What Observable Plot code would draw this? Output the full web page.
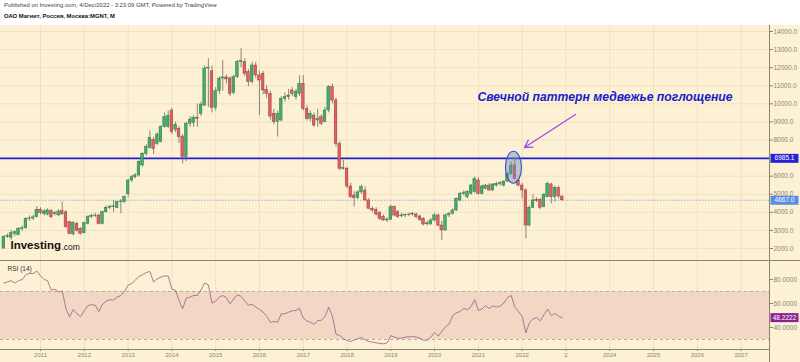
<!DOCTYPE html>
<html><head><meta charset="utf-8">
<script src="https://cdn.jsdelivr.net/npm/d3@7"></script>
<script src="https://cdn.jsdelivr.net/npm/@observablehq/plot@0.6"></script>
<style>
body{margin:0;background:#fff;font-family:"Liberation Sans",Arial,sans-serif;}
#wrap{position:relative;width:800px;height:362px;overflow:hidden;background:#fff;}
#hdr{height:25px;position:relative;}
#hdr .l1{position:absolute;left:4px;top:2px;font-size:5.9px;color:#444;white-space:nowrap;}
#hdr .l2{position:absolute;left:4px;top:13px;font-size:5.9px;font-weight:bold;color:#111;white-space:nowrap;}
#chart{background:#fdf1d5;height:337px;}
#chart svg{display:block;}
.vline{position:absolute;left:769px;top:25px;width:1px;height:337px;background:#8c8270;}
.sep{position:absolute;left:0;top:260px;width:800px;height:1px;background:#8c8270;}
</style></head>
<body>
<div id="wrap">
  <div id="hdr">
    <div class="l1">Published on Investing.com, 4/Dec/2022 - 3:23:09 GMT, Powered by TradingView</div>
    <div class="l2">ОАО Магнит, Россия, Москва:MGNT, M</div>
  </div>
  <div id="chart"></div>
  <div class="vline"></div>
  <div class="sep"></div>
</div>
<script>
// ---- data (monthly, Mar 2010 .. Dec 2022) ----
const firstMonth = "2010-03-01";
const lastMonth = "2022-12-01";
const opens = [
2000,2650,2600,2800,2750,3090,3120,3640,3660,3730,
4140,3920,3880,4060,3900,3830,4060,4000,3460,2780,
3360,3090,2850,3360,3750,3790,3820,3360,4010,4250,
4290,4250,4560,4560,5000,5760,5940,6040,6590,7235,
7570,8010,7790,7880,8710,8710,9630,8560,8620,8190,
7050,8900,8930,9230,9450,9900,11950,11800,9780,10700,
11400,11460,11400,10600,11475,12300,12300,11750,11200,12120,
11570,11660,10770,10550,9450,9000,9080,10280,10370,10740,
10370,10550,11100,9720,9170,9350,9080,9260,9000,9630,
10920,10185,7790,6410,6410,5430,4930,4780,5100,5200,
4660,4195,4140,3955,3735,3550,3586,4286,4010,3780,
3826,3850,3880,3880,3770,3640,3340,3330,3550,3830,
3270,3000,3830,3920,4100,4650,5020,4840,5020,5115,
5760,5020,5300,5480,5210,5480,5570,5480,5700,6130,
6600,5760,5480,5210,3270,4250,4690,4690,4286,4840,
5540,4840,5355,4876];
const highs = [
2700,2800,3000,2950,3150,3250,3700,3800,3850,4320,
4250,4150,4200,4150,4050,4150,4560,4100,3500,3500,
3450,3150,3450,3800,3900,3950,3900,4050,4350,4400,
4650,4600,4700,4900,5800,6050,6150,6850,7300,7750,
8500,8150,8400,8800,9500,9600,9750,9000,8750,8300,
9000,9300,9350,10000,10100,12100,12500,12100,10900,11500,
12400,11600,11500,11600,12400,13050,12500,11900,12300,12300,
11800,11800,11000,10700,9700,9600,10400,10600,10800,10900,
10800,11550,11560,9900,9600,9500,9700,9400,9800,11000,
11100,10300,7900,6870,6500,5600,5150,5200,5500,5400,
4750,4300,4250,4050,3850,3700,4400,4350,4100,3950,
3900,3950,3990,3950,3850,3700,3500,3650,3950,3900,
3500,3900,4000,4200,4800,5100,5200,5200,5550,5950,
5900,5500,5550,5600,5600,5650,5700,5750,6200,6800,
6985.1,5850,5600,5300,4350,4970,4800,4750,5050,5670,
5600,5450,5450,4900];
const lows = [
1950,2550,2450,2650,2700,2950,3050,3500,3550,3700,
3850,3800,3800,3650,3800,3750,3850,3100,2750,2700,
2900,2750,2800,3300,3650,3700,3300,3300,3950,4150,
4010,4200,3920,4500,4800,5650,5850,5950,6500,7100,
7500,7200,7700,7850,8650,8650,8300,8400,7800,6680,
6800,8700,8700,8710,9300,9850,9800,9500,9600,10500,
10700,11100,10400,10500,11400,12000,11500,10950,11100,11400,
9350,10500,10300,9100,8850,8160,9000,10100,10200,10400,
10200,10400,9600,9050,9000,8700,8700,8800,8950,9500,
10000,7600,6300,6320,5300,4750,4300,4700,5000,4600,
4150,4000,3800,3550,3500,3450,3550,3750,3650,3700,
3700,3750,3800,3650,3500,3250,3250,3300,3450,3200,
2440,2950,3700,3850,4050,4600,4900,4750,4950,5050,
4950,4950,5250,5150,5150,5400,5450,5400,5650,6050,
5800,5400,4750,2540,3200,4200,4550,4150,4250,4800,
4470,4560,4750,4600];
const closes = [
2650,2700,2850,2900,3090,3120,3640,3660,3720,4140,
3950,4050,4100,3730,3960,4050,3880,3180,2810,3400,
2990,2810,3400,3730,3790,3820,3360,4010,4250,4290,
4330,4560,4600,4840,5760,5940,6040,6775,7235,7600,
8120,7490,8300,8710,9260,9320,8430,8840,8160,7050,
8900,9120,9230,9170,9960,11950,12000,9780,10700,11380,
11460,11350,10550,11475,12300,12360,11660,11200,12120,11570,
11290,10740,10550,9300,9000,9450,10280,10370,10460,10550,
10650,11100,9720,9170,9450,8800,9170,8900,9630,10920,
10185,7790,6410,6450,5430,4840,4780,5100,5390,4660,
4200,4100,3880,3640,3550,3600,4286,3826,3735,3826,
3850,3880,3918,3735,3586,3328,3390,3550,3830,3270,
3000,3830,3920,4100,4750,5020,5060,5115,5480,5850,
5020,5430,5480,5210,5540,5570,5610,5700,6130,6590,
5850,5480,5210,3270,4250,4655,4630,4250,4968,5576,
4840,5355,4876,4667];
const rsiValues = [
77,78,79,77,79,80,84,85,85,87,
83,80,79,71,72,69.5,70.5,55.6,49,55,
51.4,49,54,58.3,59,58.6,53.3,59.4,62,63,
63,65.3,66.7,70,75.3,76.7,79.4,82.5,84,85.8,
86.7,77.8,80.6,82,83,82.8,72,70.8,62.5,55.6,
64.4,65.3,66.7,66.7,71.4,77,75.5,60.3,62,65.3,
66.7,64.7,59.7,63.9,67.2,66,62,58.6,59.4,57,
55,52.8,49.4,44.4,45,44.4,51.4,51.4,52.8,53.9,
54.2,56,47.8,45.3,44.4,42.5,45.8,46,49.2,57,
49.4,34.4,33.3,30.8,29.2,28.3,29.7,30.6,31.7,29.7,
28.3,27.8,27.2,26.7,26.4,27.2,33.3,32,31.1,31.1,
32,32.2,32.5,32,31.1,29.4,29.4,32,36,32.8,
36.7,40.6,43,50,52.2,53.3,56,54.7,57.5,63.3,
54.2,55.6,58.3,55.8,58,57,57.8,60.3,65,66.7,
57,53.3,49.2,35.5,43.9,47.2,48.3,45.6,50.6,55.3,
50,51.7,49.4,48.2222];
const priceTicks = [2000,3000,4000,5000,6000,8000,9000,10000,11000,12000,13000,14000];
const priceGrid = [2000,3000,4000,5000,6000,7000,8000,9000,10000,11000,12000,13000,14000];
const rsiTicks = [40, 60, 80];
const rsiBands = [30, 70];
const xTickYears = [2011,2012,2013,2014,2015,2016,2017,2018,2019,2020,2021,2022,2023,2024,2025,2026,2027];
const xTickLabels = ["2011","2012","2013","2014","2015","2016","2017","2018","2019","2020","2021","2022","2","2024","2025","2026","2027"];
const levelLines = [6985.1];
const lastPrice = [4667.0];
const lastRsi = [48.2222];
const noteText = ["Свечной паттерн медвежье поглощение"];
const noteAt = [{date: "2020-12-24", value: 10350}];
const arrowFromTo = [{d1: "2023-03-21", v1: 9410, d2: "2022-01-20", v2: 7585}];
const ellipseAt = [{date: "2021-10-20", value: 6496}];
const viewStart = "2010-02-01", viewEnd = "2027-08-26";

// ---- build ----
const D = s => new Date(s + "T00:00:00Z");
const months = d3.utcMonth.range(D(firstMonth), d3.utcMonth.offset(D(lastMonth), 1));
const candles = months.map((date, i) => ({date, o: opens[i], h: highs[i], l: lows[i], c: closes[i], r: rsiValues[i]}));
const years = xTickYears.map(y => new Date(Date.UTC(y, 0, 1)));
const font = '"Liberation Sans", Arial, sans-serif';
const bg = "#fdf1d5";
const gridC = "#f1e2bd";
const axisC = "#8c8270";
const labC = "#8a8378";
const upFill = "#45ad6f", upStroke = "#2b7447", dnFill = "#e0625f", dnStroke = "#9c3b39";

const boxSym = {draw(ctx){ ctx.rect(1, -4.5, 28, 9); }};
const ellSym = {draw(ctx){
  const rx = 8, ry = 16, k = 0.5523;
  ctx.moveTo(rx, 0);
  ctx.bezierCurveTo(rx, ry*k, rx*k, ry, 0, ry);
  ctx.bezierCurveTo(-rx*k, ry, -rx, ry*k, -rx, 0);
  ctx.bezierCurveTo(-rx, -ry*k, -rx*k, -ry, 0, -ry);
  ctx.bezierCurveTo(rx*k, -ry, rx, -ry*k, rx, 0);
  ctx.closePath();
}};

const xScale = {type: "utc", domain: [D(viewStart), D(viewEnd)]};

const price = Plot.plot({
  width: 800, height: 235,
  marginLeft: 0, marginRight: 31, marginTop: 0, marginBottom: 0,
  x: {...xScale, axis: null},
  y: {domain: [2000, 14000], range: [223, 6], axis: null},
  color: {type: "identity"},
  style: {background: bg, fontFamily: font, overflow: "visible"},
  marks: [
    Plot.gridY(priceGrid, {stroke: gridC, strokeOpacity: 1}),
    Plot.gridX(years, {stroke: gridC, strokeOpacity: 1}),
    Plot.ruleY(lastPrice, {stroke: "#8e9bd0", strokeWidth: 0.8, strokeDasharray: "1.5,1.5"}),
    Plot.ruleY(levelLines, {stroke: "#2020d4", strokeWidth: 1.6}),
    Plot.ruleX(candles, {x: "date", y1: "l", y2: "h", stroke: "#6b6b63", strokeWidth: 0.8}),
    Plot.rect(candles, {
      x1: d => d3.utcDay.offset(d.date, -11), x2: d => d3.utcDay.offset(d.date, 11),
      y1: "o", y2: "c",
      fill: d => d.c >= d.o ? upFill : dnFill,
      stroke: d => d.c >= d.o ? upStroke : dnStroke, strokeWidth: 0.5
    }),
    Plot.dot(ellipseAt, {x: d => D(d.date), y: "value", symbol: ellSym, r: 8, fill: "#6c8cc4", fillOpacity: 0.45, stroke: "#3550cc", strokeWidth: 1.1}),
    Plot.arrow(arrowFromTo, {x1: d => D(d.d1), y1: "v1", x2: d => D(d.d2), y2: "v2", stroke: "#a24ee0", strokeWidth: 1.4, headLength: 9, bend: false}),
    Plot.text(noteAt, {x: d => D(d.date), y: "value", text: (d, i) => noteText[i], textAnchor: "start", fill: "#1c1cc8", fontSize: 12.2, fontWeight: "bold", fontStyle: "italic"}),
    Plot.axisY(priceTicks, {anchor: "right", tickSize: 3, tickPadding: 1, tickFormat: d => d.toFixed(1), fontSize: 6.5, stroke: axisC, fill: labC, label: null}),
    Plot.dot(levelLines, {y: d => d, frameAnchor: "right", symbol: boxSym, r: 5, fill: "#2424d8", stroke: null}),
    Plot.text(levelLines, {y: d => d, frameAnchor: "right", dx: 15, textAnchor: "middle", text: d => d.toFixed(1), fill: "white", fontSize: 6.5}),
    Plot.dot(lastPrice, {y: d => d, frameAnchor: "right", symbol: boxSym, r: 5, fill: "#5b8ce6", stroke: null}),
    Plot.text(lastPrice, {y: d => d, frameAnchor: "right", dx: 15, textAnchor: "middle", text: d => d.toFixed(1), fill: "white", fontSize: 6.5}),
    Plot.text(["Investing"], {frameAnchor: "bottom-left", dx: 10, dy: -12, text: d => d, textAnchor: "start", fontSize: 11.5, fontWeight: "bold", fill: "#111", letterSpacing: "-0.4px"}),
    Plot.text([".com"], {frameAnchor: "bottom-left", dx: 61, dy: -11, text: d => d, textAnchor: "start", fontSize: 8.5, fill: "#222"})
  ]
});

const rsi = Plot.plot({
  width: 800, height: 102,
  marginLeft: 0, marginRight: 31, marginTop: 0, marginBottom: 13,
  x: {...xScale, axis: null},
  y: {domain: [30, 80], range: [79, 19], axis: null},
  style: {background: bg, fontFamily: font, overflow: "visible"},
  marks: [
    Plot.gridX(years, {stroke: gridC, strokeOpacity: 1}),
    Plot.rect([rsiBands], {y1: d => d[0], y2: d => d[1], fill: "#f2d8c4"}),
    Plot.ruleY(rsiBands, {stroke: "#b8a48e", strokeWidth: 0.9, strokeDasharray: "3,3"}),
    Plot.line(candles, {x: "date", y: "r", stroke: "#a26a90", strokeWidth: 0.9}),
    Plot.frame({anchor: "bottom", stroke: axisC}),
    Plot.axisY(rsiTicks, {anchor: "right", tickSize: 3, tickPadding: 1, tickFormat: d => d.toFixed(4), fontSize: 6.5, stroke: axisC, fill: labC, label: null}),
    Plot.axisX(years, {anchor: "bottom", tickSize: 2, tickPadding: 1, tickFormat: d => xTickLabels[xTickYears.indexOf(d.getUTCFullYear())], fontSize: 6, stroke: axisC, fill: labC, label: null}),
    Plot.dot(lastRsi, {y: d => d, frameAnchor: "right", symbol: boxSym, r: 5, fill: "#8a2296", stroke: null}),
    Plot.text(lastRsi, {y: d => d, frameAnchor: "right", dx: 15, textAnchor: "middle", text: d => d.toFixed(4), fill: "white", fontSize: 6.5}),
    Plot.text(["RSI (14)"], {frameAnchor: "top-left", dx: 7, dy: 6, text: d => d, textAnchor: "start", fontSize: 6.5, fill: "#333"})
  ]
});

const host = document.getElementById("chart");
host.appendChild(price);
host.appendChild(rsi);
</script>
</body></html>
